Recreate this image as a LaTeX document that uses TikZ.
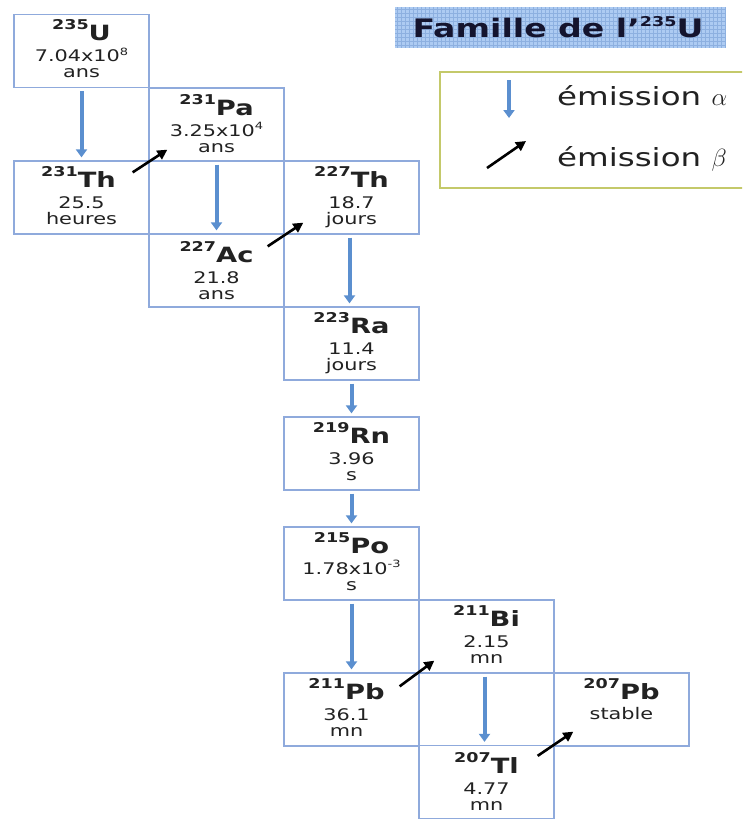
\documentclass[tikz,border=0pt]{standalone}
\usepackage{fontspec}
\setmainfont{DejaVu Sans}[FakeStretch=1.3]
\usetikzlibrary{calc,arrows.meta}

\definecolor{cellline}{HTML}{8FAADC}
\definecolor{alphablue}{HTML}{5B8FCF}
\definecolor{legendline}{HTML}{C4C96A}
\definecolor{titlebg}{HTML}{ADCBF2}
\definecolor{titlegrid}{HTML}{8DB0E0}
\definecolor{titletext}{HTML}{14142E}
\definecolor{txt}{HTML}{222222}

% nuclide symbol with its mass number raised in front
\newcommand{\nucl}[2]{{\fontsize{13.5}{14}\selectfont\raisebox{11pt}{#1}}#2}
% small raised exponent inside a half-life
\newcommand{\expo}[1]{\raisebox{6.5pt}{\fontsize{10}{11}\selectfont #1}}

\tikzset{
  cell/.style={draw=cellline, line width=1.3pt, minimum width=135pt,
    minimum height=73pt, inner sep=0pt},
  nuc/.style={anchor=base, inner sep=0pt, text=txt,
    font=\fontsize{21}{24}\selectfont\bfseries},
  life/.style={anchor=base, inner sep=0pt, text=txt,
    font=\fontsize{16}{18}\selectfont},
  alphaarrow/.style={draw=alphablue, line width=4pt,
    -{Triangle[width=11pt,length=8pt]}, shorten <=3pt, shorten >=3pt},
  betaarrow/.style={draw=black, line width=2.6pt,
    -{Triangle[width=10pt,length=10pt]}},
  legendtext/.style={anchor=base west, inner sep=0pt, text=txt,
    font=\fontsize{25}{27}\selectfont},
}

\begin{document}
\begin{tikzpicture}[x=1pt,y=-1pt]
\clip (0,0) rectangle (742,819);
\fill[white] (0,0) rectangle (742,819);

% ---- decay chain cells ----
\node[cell] (u)     at (81.5,51)    {};
\node[cell] (pa)    at (216.5,124.5) {};
\node[cell] (th231) at (81.5,197.5) {};
\node[cell] (th227) at (351.5,197.5) {};
\node[cell] (ac)    at (216.5,270.5) {};
\node[cell] (ra)    at (351.5,343.5) {};
\node[cell] (rn)    at (351.5,453.5) {};
\node[cell] (po)    at (351.5,563.5) {};
\node[cell] (bi)    at (486.5,636.5) {};
\node[cell] (pb211) at (351.5,709.5) {};
\node[cell] (pb207) at (621.5,709.5) {};
\node[cell] (tl)    at (486.5,782)   {};

% ---- cell texts ----
\node[nuc]  (u-n) at ($(u.north)+(0,27)$) {\nucl{235}{U}};
\node[life] (u-a) at ($(u.north)+(0,48)$) {7.04x10\expo{8}};
\node[life] (u-b) at ($(u.north)+(0,64)$) {ans};

\node[nuc]  (pa-n) at ($(pa.north)+(0,28)$) {\nucl{231}{Pa}};
\node[life] (pa-a) at ($(pa.north)+(0,49)$) {3.25x10\expo{4}};
\node[life] (pa-b) at ($(pa.north)+(0,65)$) {ans};

\node[nuc]  (th231-n) at ($(th231.north)+(-3,27)$) {\nucl{231}{Th}};
\node[life] (th231-a) at ($(th231.north)+(0,48)$) {25.5};
\node[life] (th231-b) at ($(th231.north)+(0,64)$) {heures};

\node[nuc]  (th227-n) at ($(th227.north)+(0,27)$) {\nucl{227}{Th}};
\node[life] (th227-a) at ($(th227.north)+(0,48)$) {18.7};
\node[life] (th227-b) at ($(th227.north)+(0,64)$) {jours};

\node[nuc]  (ac-n) at ($(ac.north)+(0,29)$) {\nucl{227}{Ac}};
\node[life] (ac-a) at ($(ac.north)+(0,50)$) {21.8};
\node[life] (ac-b) at ($(ac.north)+(0,66)$) {ans};

\node[nuc]  (ra-n) at ($(ra.north)+(0,27)$) {\nucl{223}{Ra}};
\node[life] (ra-a) at ($(ra.north)+(0,48)$) {11.4};
\node[life] (ra-b) at ($(ra.north)+(0,64)$) {jours};

\node[nuc]  (rn-n) at ($(rn.north)+(0,27)$) {\nucl{219}{Rn}};
\node[life] (rn-a) at ($(rn.north)+(0,48)$) {3.96};
\node[life] (rn-b) at ($(rn.north)+(0,64)$) {s};

\node[nuc]  (po-n) at ($(po.north)+(0,27)$) {\nucl{215}{Po}};
\node[life] (po-a) at ($(po.north)+(0,48)$) {1.78x10\expo{-3}};
\node[life] (po-b) at ($(po.north)+(0,64)$) {s};

\node[nuc]  (bi-n) at ($(bi.north)+(0,27)$) {\nucl{211}{Bi}};
\node[life] (bi-a) at ($(bi.north)+(0,48)$) {2.15};
\node[life] (bi-b) at ($(bi.north)+(0,64)$) {mn};

\node[nuc]  (pb211-n) at ($(pb211.north)+(-5,27)$) {\nucl{211}{Pb}};
\node[life] (pb211-a) at ($(pb211.north)+(-5,48)$) {36.1};
\node[life] (pb211-b) at ($(pb211.north)+(-5,64)$) {mn};

\node[nuc]  (pb207-n) at ($(pb207.north)+(0,27)$) {\nucl{207}{Pb}};
\node[life] (pb207-a) at ($(pb207.north)+(0,47)$) {stable};

\node[nuc]  (tl-n) at ($(tl.north)+(0,29)$) {\nucl{207}{Tl}};
\node[life] (tl-a) at ($(tl.north)+(0,50)$) {4.77};
\node[life] (tl-b) at ($(tl.north)+(0,66)$) {mn};

% ---- alpha decays (straight down) ----
\draw[alphaarrow] (u.south)     -- (th231.north);
\draw[alphaarrow] (pa.south)    -- (ac.north);
\draw[alphaarrow] ([xshift=-2pt]th227.south) -- ([xshift=-2pt]ra.north);
\draw[alphaarrow] (ra.south)    -- (rn.north);
\draw[alphaarrow] (rn.south)    -- (po.north);
\draw[alphaarrow] (po.south)    -- (pb211.north);
\draw[alphaarrow] ([xshift=-2pt]bi.south) -- ([xshift=-2pt]tl.north);

% ---- beta decays (diagonal, across the shared corner) ----
\draw[betaarrow] ($(th231.north east)+(-17,12)$) -- ($(pa.south west)+(19,-12)$);
\draw[betaarrow] ($(ac.north east)+(-17,13)$)    -- ($(th227.south west)+(20,-12)$);
\draw[betaarrow] ($(pb211.north east)+(-20,14)$) -- ($(bi.south west)+(16,-13)$);
\draw[betaarrow] ($(tl.north east)+(-17,11)$)    -- ($(pb207.south west)+(20,-15)$);

% ---- title banner ----
\fill[titlebg] (395,7) rectangle (725,48);
\foreach \gx in {397,401,...,725} \draw[titlegrid, line width=0.5pt] (\gx,7) -- (\gx,48);
\foreach \gy in {9,13,...,48} \draw[titlegrid, line width=0.5pt] (395,\gy) -- (725,\gy);
\node[anchor=base, inner sep=0pt, text=titletext,
  font=\fontsize{25.5}{27}\selectfont\bfseries] (title) at (558,37)
  {Famille de l’\nucl{235}{U}};

% ---- legend ----
\draw[legendline, line width=2pt] (440,72) rectangle (770,188);
\coordinate (la1) at (509,80);
\coordinate (la2) at (509,118);
\draw[alphaarrow, shorten <=0pt, shorten >=0pt, line width=3.5pt] (la1) -- (la2);
\coordinate (lb1) at (487,168);
\coordinate (lb2) at (526,141);
\draw[betaarrow] (lb1) -- (lb2);
\node[legendtext] (leg-a) at (557,105) {émission {\fontsize{27}{27}\selectfont$\alpha$}};
\node[legendtext] (leg-b) at (557,166) {émission {\fontsize{27}{27}\selectfont$\beta$}};
\end{tikzpicture}
\end{document}
